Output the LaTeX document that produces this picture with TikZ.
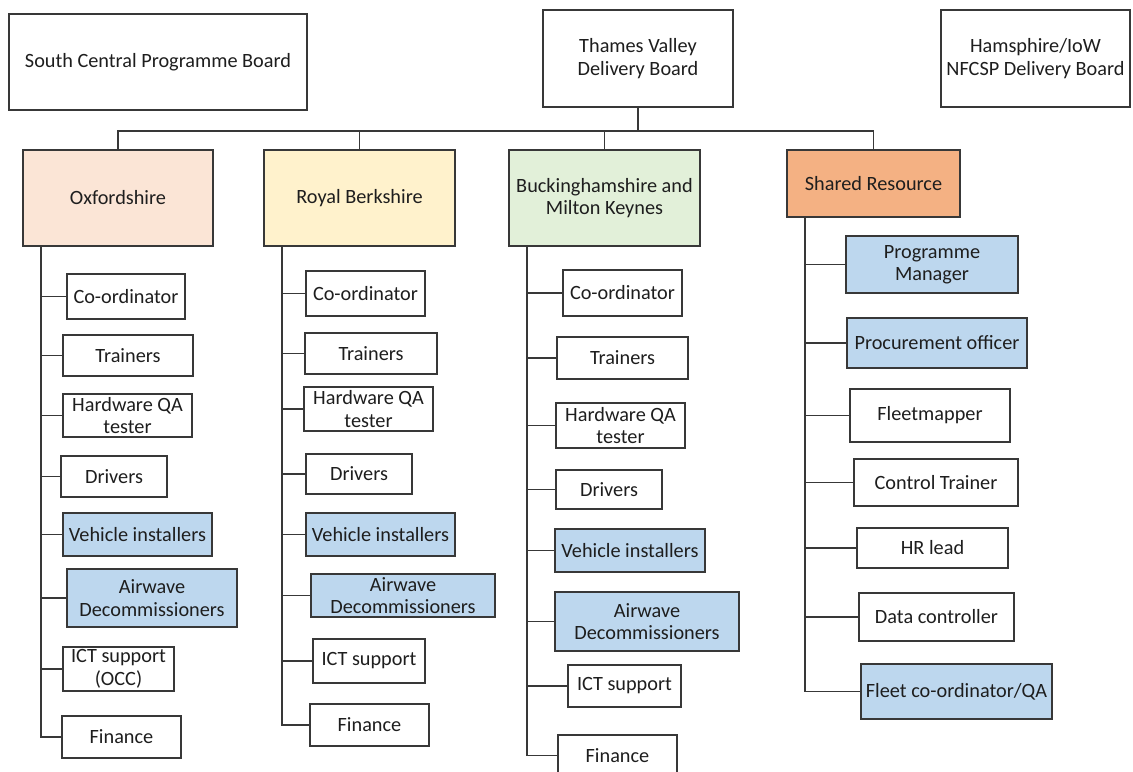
\documentclass[tikz,border=0pt]{standalone}
\usepackage{fontspec}
\setmainfont{Carlito}
\usepackage{tikz}

\definecolor{ink}{HTML}{1E1E1E}
\definecolor{linkgray}{HTML}{383838}
\definecolor{oxpeach}{HTML}{FBE5D6}
\definecolor{rbyellow}{HTML}{FFF2CC}
\definecolor{bkgreen}{HTML}{E2F0D9}
\definecolor{srorange}{HTML}{F4B183}
\definecolor{hotblue}{HTML}{BDD7EE}

\begin{document}
\begin{tikzpicture}[x=0.75pt,y=-0.75pt]
\tikzset{box/.style = {shape=rectangle,draw=linkgray,line width=1.3pt,text=ink,align=center,inner sep=0pt,
                       font=\fontsize{15.2}{16.8}\selectfont},
         role/.style = {box,fill=white},
         hot/.style = {box,fill=hotblue},
         link/.style = {draw=linkgray,line width=1.4pt}}
\useasboundingbox (0,0) rectangle (1133,772);
% boards and areas
\foreach \name/\xa/\ya/\xb/\yb/\kind/\txt in {
    sc/9/14/307/110/white/{South Central Programme Board},
    tv/543/10/733/107/white/{Thames Valley\\Delivery Board},
    hw/941/10/1130/107/white/{Hamsphire/IoW\\NFCSP Delivery Board},
    ox/23/150/213/246/oxpeach/Oxfordshire,
    rb/264/150/455/246/rbyellow/{Royal Berkshire},
    bk/509/150/700/246/bkgreen/{Buckinghamshire and\\Milton Keynes},
    sr/787/150/960/217/srorange/{Shared Resource}} {
    \node[box,fill=\kind,minimum width={(\xb-\xa)*0.75pt},minimum height={(\yb-\ya)*0.75pt}]
        (\name) at ({(\xa+\xb)/2},{(\ya+\yb)/2}) {\txt};
}
% roles
\foreach \up/\name/\xa/\ya/\xb/\yb/\kind/\txt in {
    ox/oxco/67/274/185/319/role/Co-ordinator,
    ox/oxtr/63/335/193/376/role/Trainers,
    ox/oxhw/63/394/192/437/role/{Hardware QA\\tester},
    ox/oxdr/61/456/167/497/role/Drivers,
    ox/oxvi/63/513/212/556/hot/{Vehicle installers},
    ox/oxad/67/569/237/627/hot/{Airwave\\Decommissioners},
    ox/oxict/63/647/174/691/role/{ICT support\\(OCC)},
    ox/oxfin/62/716/181/758/role/Finance,
    rb/rbco/306/271/425/316/role/Co-ordinator,
    rb/rbtr/305/333/437/374/role/Trainers,
    rb/rbhw/304/387/433/431/role/{Hardware QA\\tester},
    rb/rbdr/306/454/412/494/role/Drivers,
    rb/rbvi/306/513/455/556/hot/{Vehicle installers},
    rb/rbad/311/574/495/617/hot/{Airwave\\Decommissioners},
    rb/rbict/313/639/425/683/role/{ICT support},
    rb/rbfin/310/704/429/746/role/Finance,
    bk/bkco/563/270/682/316/role/Co-ordinator,
    bk/bktr/557/337/688/379/role/Trainers,
    bk/bkhw/556/403/685/448/role/{Hardware QA\\tester},
    bk/bkdr/556/470/662/509/role/Drivers,
    bk/bkvi/555/529/705/572/hot/{Vehicle installers},
    bk/bkad/555/592/739/651/hot/{Airwave\\Decommissioners},
    bk/bkict/568/665/681/707/role/{ICT support},
    bk/bkfin/558/735/677/776/role/Finance,
    sr/srpm/846/236/1018/293/hot/{Programme\\Manager},
    sr/srpo/847/318/1027/368/hot/{Procurement officer},
    sr/srfm/850/389/1010/442/role/Fleetmapper,
    sr/srct/854/459/1018/506/role/{Control Trainer},
    sr/srhr/857/528/1008/568/role/{HR lead},
    sr/srdc/859/593/1014/641/role/{Data controller},
    sr/srfc/861/664/1052/719/hot/{Fleet co-ordinator/QA}} {
    \node[\kind,minimum width={(\xb-\xa)*0.75pt},minimum height={(\yb-\ya)*0.75pt}]
        (\name) at ({(\xa+\xb)/2},{(\ya+\yb)/2}) {\txt};
    \path (\up.south west) ++(19,0) coordinate (\up t);
    \draw[link] (\up t) |- (\name.west);
}
% edges
\path (tv.south) ++(0,23) coordinate (bus);
\draw[link] (tv.south) -- (bus);
\foreach \j in {ox,rb,bk,sr} {
    \draw[link] (bus) -| (\j.north);
}
\end{tikzpicture}
\end{document}
